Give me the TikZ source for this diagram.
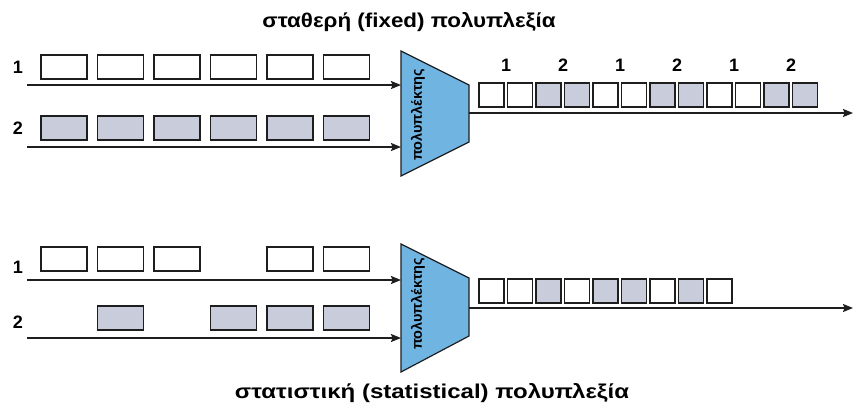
\documentclass[tikz,border=0pt]{standalone}
\usepackage{fontspec}
\setmainfont{Liberation Sans}
\usetikzlibrary{arrows.meta}
\definecolor{muxblue}{RGB}{112,180,226}
\definecolor{slotgray}{RGB}{201,205,219}
\definecolor{inkline}{RGB}{30,30,30}
\tikzset{
  slotA/.style={draw=inkline, line width=1.8pt, fill=white, minimum width=46pt, minimum height=24pt, inner sep=0pt},
  slotB/.style={slotA, fill=slotgray},
  cellA/.style={draw=inkline, line width=1.6pt, fill=white, minimum width=25pt, minimum height=24pt, inner sep=0pt},
  cellB/.style={cellA, fill=slotgray},
  flow/.style={draw=inkline, line width=1.5pt, -{Stealth[length=10pt,width=8pt,inset=1.5pt]}},
  muxbody/.style={draw=inkline, line width=1.2pt, fill=muxblue},
  muxlabel/.style={font=\bfseries\fontsize{14.5}{14.5}\selectfont, rotate=90, inner sep=0pt},
  lbl/.style={font=\bfseries\fontsize{18}{18}\selectfont, inner sep=0pt},
  heading/.style={font=\bfseries\fontsize{20}{20}\selectfont, inner sep=0pt}
}
\begin{document}
\begin{tikzpicture}[x=1pt, y=-1pt]
\useasboundingbox[fill=white] (0,0) rectangle (854,410);

% ---------- fixed multiplexing ----------
\node[heading, xscale=1.12] (title1) at (409,22) {σταθερή (fixed) πολυπλεξία};

% multiplexer
\coordinate (m1tl) at (401,51);
\coordinate (m1tr) at (469,85);
\coordinate (m1br) at (469,142);
\coordinate (m1bl) at (401,176);
\draw[muxbody] (m1tl) -- (m1tr) -- (m1br) -- (m1bl) -- cycle;
\node[muxlabel] (mux1) at (418,115) {πολυπλέκτης};

% input 1
\node[lbl] (in1a) at (18,67) {1};
\foreach \i in {0,...,5} \node[slotA] (p1a-\i) at (64+56.5*\i,67) {};
\coordinate (s1a) at (27,85);
\coordinate (e1a) at (401,85);
\draw[flow] (s1a) -- (e1a);

% input 2
\node[lbl] (in1b) at (18,128) {2};
\foreach \i in {0,...,5} \node[slotB] (p1b-\i) at (64+56.5*\i,128) {};
\coordinate (s1b) at (27,147);
\coordinate (e1b) at (401,147);
\draw[flow] (s1b) -- (e1b);

% output
\foreach \i/\s in {0/cellA,1/cellA,2/cellB,3/cellB,4/cellA,5/cellA,6/cellB,7/cellB,8/cellA,9/cellA,10/cellB,11/cellB}
  \node[\s] (o1-\i) at (491.5+28.5*\i,95) {};
\foreach \k/\t in {0/1,1/2,2/1,3/2,4/1,5/2}
  \node[lbl] (t1-\k) at (506+57*\k,65) {\t};
\coordinate (o1s) at (469,113);
\coordinate (o1e) at (853,113);
\draw[flow] (o1s) -- (o1e);

% ---------- statistical multiplexing ----------
\node[heading, xscale=1.2] (title2) at (432,393) {στατιστική (statistical) πολυπλεξία};

\coordinate (m2tl) at (401,244);
\coordinate (m2tr) at (469,278);
\coordinate (m2br) at (469,336);
\coordinate (m2bl) at (401,372);
\draw[muxbody] (m2tl) -- (m2tr) -- (m2br) -- (m2bl) -- cycle;
\node[muxlabel] (mux2) at (418,304) {πολυπλέκτης};

% input 1
\node[lbl] (in2a) at (18,267) {1};
\foreach \i in {0,1,2,4,5} \node[slotA] (p2a-\i) at (64+56.5*\i,259) {};
\coordinate (s2a) at (27,280);
\coordinate (e2a) at (401,280);
\draw[flow] (s2a) -- (e2a);

% input 2
\node[lbl] (in2b) at (18,322) {2};
\foreach \i in {1,3,4,5} \node[slotB] (p2b-\i) at (64+56.5*\i,318) {};
\coordinate (s2b) at (27,338);
\coordinate (e2b) at (401,338);
\draw[flow] (s2b) -- (e2b);

% output
\foreach \i/\s in {0/cellA,1/cellA,2/cellB,3/cellA,4/cellB,5/cellB,6/cellA,7/cellB,8/cellA}
  \node[\s] (o2-\i) at (491.5+28.5*\i,291) {};
\coordinate (o2s) at (469,308);
\coordinate (o2e) at (853,308);
\draw[flow] (o2s) -- (o2e);
\end{tikzpicture}
\end{document}
